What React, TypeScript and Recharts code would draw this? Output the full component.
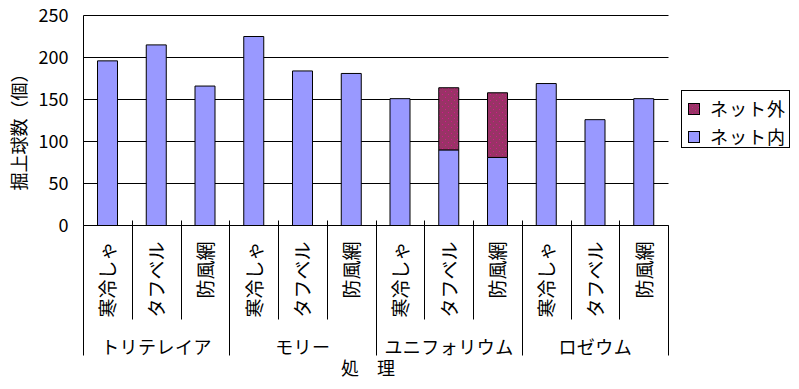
import { BarChart, Bar, XAxis, YAxis, CartesianGrid, Legend, Label } from "recharts";

const CATEGORIES = [
  "寒冷しゃ", "タフベル", "防風網",
  "寒冷しゃ", "タフベル", "防風網",
  "寒冷しゃ", "タフベル", "防風網",
  "寒冷しゃ", "タフベル", "防風網",
];
const GROUPS = ["トリテレイア", "モリー", "ユニフォリウム", "ロゼウム"];
const NET_INSIDE = [196, 215, 166, 225, 184, 181, 151, 90, 81, 169, 126, 151];
const NET_OUTSIDE = [0, 0, 0, 0, 0, 0, 0, 74, 77, 0, 0, 0];
const Y_TICKS = [0, 50, 100, 150, 200, 250];

const FONT = '"Noto Sans CJK JP", "Noto Sans", sans-serif';
const BLUE = "#9999FF";
const MAROON = "#993366";

const data = CATEGORIES.map((name, i) => ({
  name,
  inside: NET_INSIDE[i],
  outside: NET_OUTSIDE[i],
}));

function CategoryTick(props: any) {
  const { x, y, payload } = props;
  const i: number = payload.index;
  const half: number = payload.offset ?? 24.375;
  const left = Math.floor(x - half) + 0.5;
  const right = Math.floor(x + half) + 0.5;
  const groupStart = i % 3 === 0;
  const last = i === CATEGORIES.length - 1;
  return (
    <g>
      {i > 0 && <line x1={left} x2={left} y1={y - 5} y2={y} stroke="#000" />}
      <line x1={left} x2={left} y1={y} y2={groupStart ? y + 130 : y + 94} stroke="#000" />
      {last && <line x1={right} x2={right} y1={y} y2={y + 130} stroke="#000" />}
      <text
        transform={`translate(${x - 1},${y + 16}) rotate(-90)`}
        textAnchor="end"
        dominantBaseline="central"
        fontSize={19}
        fontFamily={FONT}
        fill="#000"
      >
        {payload.value}
      </text>
      {i % 3 === 1 && (
        <text
          x={x}
          y={y + 120}
          textAnchor="middle"
          dominantBaseline="central"
          fontSize={18}
          fontFamily={FONT}
          letterSpacing={0.5}
          fill="#000"
        >
          {GROUPS[(i - 1) / 3]}
        </text>
      )}
    </g>
  );
}

function XTitle(props: any) {
  const vb = props.viewBox;
  return (
    <text
      x={vb.x + vb.width / 2 - 8}
      y={vb.y + 141}
      textAnchor="middle"
      dominantBaseline="central"
      fontSize={18}
      fontFamily={FONT}
      fill="#000"
    >
      処　理
    </text>
  );
}

function YTitle(props: any) {
  const vb = props.viewBox;
  const cx = vb.x + 18;
  const cy = vb.y + vb.height / 2 + 7;
  return (
    <text
      transform={`translate(${cx},${cy}) rotate(-90)`}
      textAnchor="middle"
      dominantBaseline="central"
      fontSize={18}
      fontFamily={FONT}
      fill="#000"
    >
      掘上球数（個）
    </text>
  );
}

function LegendBox(props: any) {
  const items = [...(props.payload || [])].reverse();
  return (
    <div
      style={{
        position: "relative",
        width: 107,
        height: 56,
        border: "1px solid #000",
        background: "#fff",
        fontFamily: FONT,
        fontSize: 18,
        color: "#000",
      }}
    >
      {items.map((e: any, k: number) => (
        <div key={e.value}>
          <svg
            width={12}
            height={12}
            style={{ position: "absolute", left: 6, top: 12 + k * 28 }}
          >
            <rect x={0.5} y={0.5} width={11} height={11} fill={e.color} stroke="#000" />
          </svg>
          <div
            style={{
              position: "absolute",
              left: 28,
              top: 6 + k * 28,
              lineHeight: "22px",
              letterSpacing: 1,
              whiteSpace: "nowrap",
            }}
          >
            {e.value}
          </div>
        </div>
      ))}
    </div>
  );
}

export default function App() {
  return (
    <div style={{ position: "absolute", left: 0, top: 0, width: 799, height: 389, background: "#fff" }}>
      <BarChart
        width={799}
        height={389}
        data={data}
        margin={{ top: 15.5, right: 130.5, bottom: 0, left: 0 }}
        barSize={20}
      >
        <defs>
          <pattern id="dots" width="6" height="6" patternUnits="userSpaceOnUse">
            <rect width="6" height="6" fill={MAROON} />
            <rect x="1" y="1" width="1" height="1" fill="#D4168F" />
            <rect x="4" y="4" width="1" height="1" fill="#D4168F" />
          </pattern>
        </defs>
        <CartesianGrid vertical={false} stroke="#000" strokeOpacity={1} />
        <XAxis
          dataKey="name"
          height={163.5}
          interval={0}
          tickLine={false}
          tickSize={0}
          tickMargin={0}
          axisLine={{ stroke: "#000" }}
          tick={<CategoryTick />}
        >
          <Label content={<XTitle />} />
        </XAxis>
        <YAxis
          width={83.5}
          domain={[0, 250]}
          ticks={Y_TICKS}
          interval={0}
          tickLine={false}
          tickSize={0}
          tickMargin={15}
          axisLine={{ stroke: "#000" }}
          tick={{ fill: "#000", fontSize: 18, fontFamily: FONT }}
        >
          <Label content={<YTitle />} />
        </YAxis>
        <YAxis
          yAxisId="right"
          orientation="right"
          width={0}
          domain={[0, 250]}
          tick={false}
          tickLine={false}
          axisLine={{ stroke: "#000" }}
        />
        <Legend
          layout="vertical"
          align="center"
          verticalAlign="middle"
          wrapperStyle={{ left: 681, top: 90, width: 109, height: 58 }}
          content={<LegendBox />}
        />
        <Bar
          dataKey="inside"
          name="ネット内"
          stackId="a"
          fill={BLUE}
          stroke="#000"
          strokeWidth={1}
          isAnimationActive={false}
        />
        <Bar
          dataKey="outside"
          name="ネット外"
          stackId="a"
          fill="url(#dots)"
          stroke="#000"
          strokeWidth={1}
          isAnimationActive={false}
        />
      </BarChart>
    </div>
  );
}
